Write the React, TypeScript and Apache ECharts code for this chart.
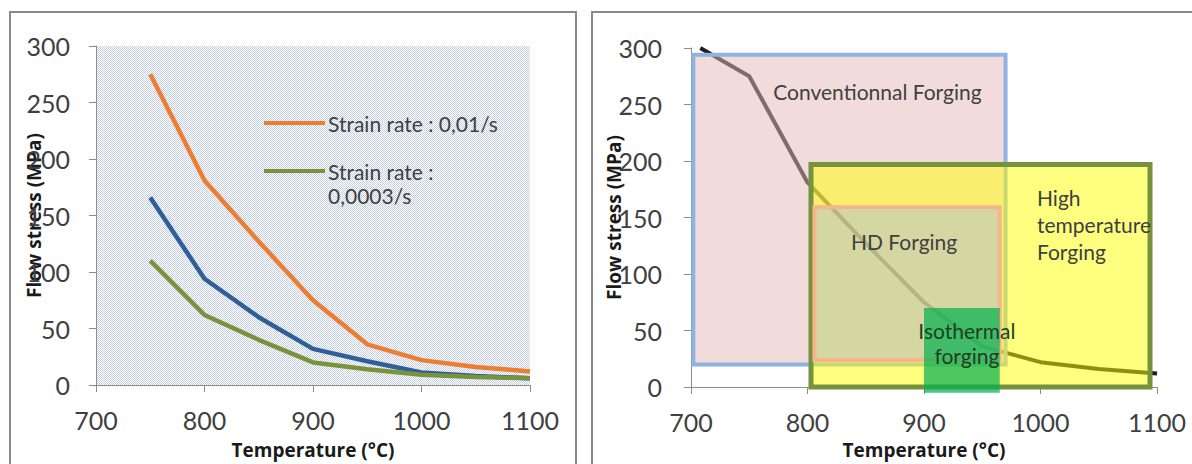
import React, { useEffect, useRef } from 'react';
import * as echarts from 'echarts';

// ---- data ----
const temps = [750, 800, 850, 900, 950, 1000, 1050, 1100];
const stressRate001 = [275, 181, 127, 75, 36, 22, 16, 12];
const stressRateMid = [166, 94, 60, 32, 21, 11, 8, 6];
const stressRate0003 = [110, 62, 40, 20, 14, 9, 7, 6];

const tempsRight = [708, 750, 800, 850, 900, 950, 1000, 1050, 1100];
const stressRight = [300, 275, 181, 127, 75, 36, 22, 16, 12];

const legendNames = ['Strain rate : 0,01/s', 'Strain rate :\n0,0003/s'];

const zoneNames = ['Conventionnal Forging', 'High\ntemperature\nForging', 'HD Forging', 'Isothermal\nforging'];
const zoneTempFrom = [702, 803, 806, 900];
const zoneTempTo = [970, 1094, 965, 965];
const zoneStressFrom = [20, 0, 24, -5];
const zoneStressTo = [294, 197, 159, 70];

const xName = 'Temperature (°C)';
const yName = 'Flow stress (MPa)';

// ---- styles ----
const FONT = 'Lato, "Noto Sans", sans-serif';
const NAME_FONT = '"Open Sans", Lato, sans-serif';
const zoneStyles = [
  { fill: 'rgba(230,185,184,0.5)', stroke: '#8db4e2', lineWidth: 4, align: 'center', dx: 28, dy: 37, vAlign: 'middle', color: '#404040', lh: 26 },
  { fill: 'rgba(255,255,0,0.5)', stroke: '#76923c', lineWidth: 5, align: 'left', dx: 226, dy: 20, vAlign: 'top', color: '#404040', lh: 27 },
  { fill: 'rgba(160,180,245,0.4)', stroke: '#f6b58c', lineWidth: 4, align: 'center', dx: -3, dy: 34, vAlign: 'middle', color: '#404040', lh: 26 },
  { fill: 'rgba(0,176,80,0.7)', stroke: 'none', lineWidth: 0, align: 'center', dx: 5, dy: 10, vAlign: 'top', color: '#1d3f22', lh: 25 },
];

function makePattern(): any {
  const c = document.createElement('canvas');
  c.width = 2;
  c.height = 2;
  const ctx = c.getContext('2d');
  if (!ctx) return '#e0e6f1';
  ctx.fillStyle = '#ffffff';
  ctx.fillRect(0, 0, 2, 2);
  ctx.fillStyle = '#c6d0e5';
  ctx.fillRect(0, 0, 1, 1);
  ctx.fillRect(1, 1, 1, 1);
  return { image: c, repeat: 'repeat' };
}

function axisCommon(extra: any) {
  return {
    type: 'value',
    splitLine: { show: false },
    axisLine: { show: true, lineStyle: { color: '#8c8c8c', width: 1 } },
    axisTick: { show: true, length: 7, lineStyle: { color: '#8c8c8c', width: 1 } },
    nameLocation: 'middle',
    nameMoveOverlap: false,
    nameTextStyle: { fontFamily: NAME_FONT, fontWeight: 'bold', fontSize: 19, color: '#1a1a1a' },
    ...extra,
    axisLabel: {
      fontFamily: FONT,
      fontSize: 25,
      color: '#404040',
      showMinLabel: true,
      showMaxLabel: true,
      formatter: (v: number) => String(v),
      ...(extra.axisLabel || {}),
    },
  };
}

export default function App() {
  const ref = useRef<HTMLDivElement>(null);

  useEffect(() => {
    document.body.style.margin = '0';
    if (!ref.current) return;
    const chart = echarts.init(ref.current, undefined, { renderer: 'svg' });

    const zoneData = zoneNames.map((n, i) => ({
      name: n,
      value: [zoneTempFrom[i], zoneTempTo[i], zoneStressFrom[i], zoneStressTo[i]],
    }));

    const option: any = {
      animation: false,
      backgroundColor: '#ffffff',
      grid: [
        { left: 96, top: 46, width: 434, height: 339, show: true, borderWidth: 0, backgroundColor: makePattern() },
        { left: 691, top: 48, width: 466, height: 340, show: false },
      ],
      xAxis: [
        axisCommon({ gridIndex: 0, min: 700, max: 1100, interval: 100, name: xName, nameGap: 55, axisLabel: { margin: 22 } }),
        axisCommon({ gridIndex: 1, min: 700, max: 1100, interval: 100, name: xName, nameGap: 53, axisLabel: { margin: 22 } }),
      ],
      yAxis: [
        axisCommon({ gridIndex: 0, min: 0, max: 300, interval: 50, name: yName, nameGap: 53, axisLabel: { margin: 26 } }),
        axisCommon({ gridIndex: 1, min: 0, max: 300, interval: 50, name: yName, nameGap: 68, axisLabel: { margin: 29 } }),
      ],
      series: [
        {
          type: 'line', xAxisIndex: 0, yAxisIndex: 0, symbol: 'none', z: 3,
          data: temps.map((t, i) => [t, stressRate001[i]]),
          lineStyle: { color: '#ed7d31', width: 4.5 },
        },
        {
          type: 'line', xAxisIndex: 0, yAxisIndex: 0, symbol: 'none', z: 3,
          data: temps.map((t, i) => [t, stressRateMid[i]]),
          lineStyle: { color: '#2f5f98', width: 4.5 },
        },
        {
          type: 'line', xAxisIndex: 0, yAxisIndex: 0, symbol: 'none', z: 3,
          data: temps.map((t, i) => [t, stressRate0003[i]]),
          lineStyle: { color: '#77933c', width: 4.5 },
        },
        {
          type: 'line', xAxisIndex: 1, yAxisIndex: 1, symbol: 'none', z: 1,
          data: tempsRight.map((t, i) => [t, stressRight[i]]),
          lineStyle: { color: '#1f1f1f', width: 4 },
        },
        {
          type: 'custom', xAxisIndex: 1, yAxisIndex: 1, z: 2, clip: false,
          data: zoneData,
          renderItem: (params: any, api: any) => {
            const i = params.dataIndex;
            const p1 = api.coord([api.value(0), api.value(3)]);
            const p2 = api.coord([api.value(1), api.value(2)]);
            const w = p2[0] - p1[0];
            const h = p2[1] - p1[1];
            const st = zoneStyles[i];
            const half = st.lineWidth / 2;
            const px = st.align === 'center' ? w / 2 + st.dx + half : st.dx + half;
            return {
              type: 'rect',
              shape: { x: p1[0], y: p1[1], width: w, height: h },
              style: { fill: st.fill, stroke: st.stroke, lineWidth: st.lineWidth },
              textContent: {
                style: {
                  text: zoneNames[i],
                  fill: st.color,
                  fontFamily: FONT,
                  fontSize: 21,
                  lineHeight: st.lh,
                  align: st.align,
                  verticalAlign: st.vAlign,
                },
              },
              textConfig: { position: [px, st.dy + half], inside: true },
            };
          },
        },
      ],
      graphic: [
        { type: 'rect', z: 0, silent: true, shape: { x: 10, y: 12, width: 566, height: 470 }, style: { fill: 'none', stroke: '#8a8a8a', lineWidth: 2 } },
        { type: 'rect', z: 0, silent: true, shape: { x: 592, y: 12, width: 640, height: 470 }, style: { fill: 'none', stroke: '#8a8a8a', lineWidth: 2 } },
        { type: 'line', z: 10, shape: { x1: 264, y1: 123, x2: 325, y2: 123 }, style: { stroke: '#ed7d31', lineWidth: 4 } },
        { type: 'text', z: 10, x: 328, y: 123, style: { text: legendNames[0], fill: '#404040', fontFamily: FONT, fontSize: 21, verticalAlign: 'middle' } },
        { type: 'line', z: 10, shape: { x1: 264, y1: 171, x2: 325, y2: 171 }, style: { stroke: '#77933c', lineWidth: 4 } },
        { type: 'text', z: 10, x: 328, y: 159, style: { text: legendNames[1], fill: '#404040', fontFamily: FONT, fontSize: 21, lineHeight: 24, verticalAlign: 'top' } },
      ],
    };

    chart.setOption(option);
    return () => chart.dispose();
  }, []);

  return <div ref={ref} style={{ width: 1192, height: 464 }} />;
}
